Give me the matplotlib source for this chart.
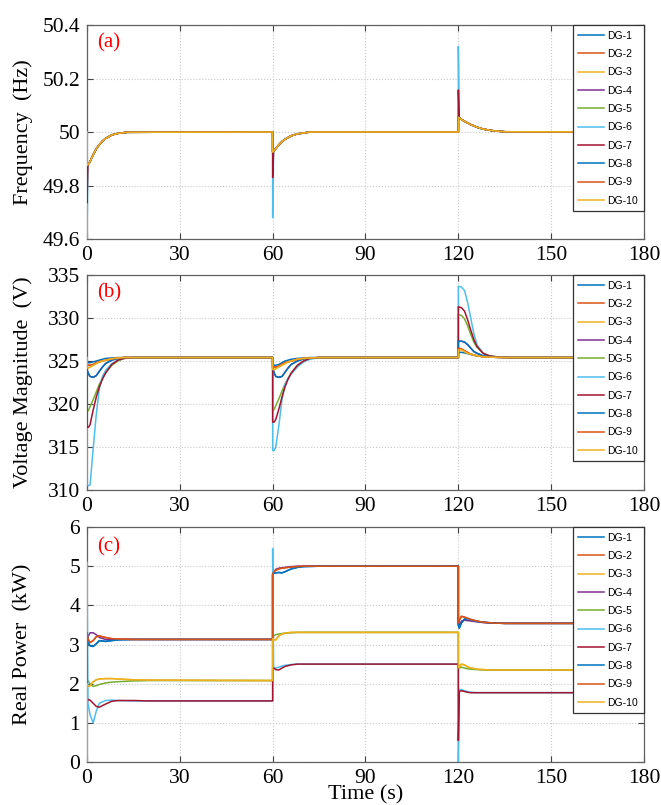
import matplotlib.pyplot as plt

plt.rcParams['font.family'] = ['Liberation Serif', 'DejaVu Serif']

# DG names and MATLAB-like colours
dg_names = ['DG-1', 'DG-2', 'DG-3', 'DG-4', 'DG-5', 'DG-6', 'DG-7', 'DG-8', 'DG-9', 'DG-10']
dg_colors = ['#0072BD', '#D95319', '#EDB120', '#7E2F8E', '#77AC30',
             '#4DBEEE', '#A2142F', '#0072BD', '#D95319', '#EDB120']

x_ticks = [0, 30, 60, 90, 120, 150, 180]

# ---------------- (a) frequency ----------------
t_freq = [0, 0, 0.3, 1, 2, 3, 4, 5, 6, 8, 10, 13,
          60, 60, 60.3, 61, 62, 63, 64, 66, 68, 72,
          120, 120, 120.3, 121, 122, 124, 126, 128, 131, 135, 180]
freq_base = [50, 49.875, 49.878, 49.89, 49.915, 49.937, 49.953, 49.966, 49.976, 49.989, 49.995, 49.999,
             50, 49.925, 49.928, 49.938, 49.952, 49.964, 49.973, 49.986, 49.993, 50,
             50, 50.055, 50.053, 50.047, 50.04, 50.028, 50.018, 50.011, 50.005, 50.001, 50]
# value each DG jumps to at t = 0, 60, 120
freq_jump_0 = [49.875, 49.875, 49.875, 49.875, 49.875, 49.6, 49.735, 49.875, 49.875, 49.875]
freq_jump_60 = [49.925, 49.925, 49.925, 49.925, 49.925, 49.68, 49.83, 49.925, 49.925, 49.925]
freq_jump_120 = [50.055, 50.055, 50.055, 50.055, 50.055, 50.32, 50.157, 50.055, 50.055, 50.055]
freq_ticks = [49.6, 49.8, 50, 50.2, 50.4]
freq_ticklabels = ['49.6', '49.8', '50', '50.2', '50.4']

# ---------------- (b) voltage ----------------
t_volt = [0, 0, 0.5, 1, 2, 3, 4, 5, 6, 8, 10, 12, 15,
          60, 60, 60.5, 61, 62, 63, 64, 65, 66, 68, 70, 72, 75,
          120, 120, 121, 122, 123, 124, 125, 126, 128, 130, 133, 137, 180]
v_dg1 = [325.4, 324.9, 324.8, 324.8, 324.9, 325.0, 325.1, 325.2, 325.3, 325.35, 325.4, 325.4, 325.4,
         325.4, 324.6, 324.5, 324.5, 324.6, 324.8, 325.0, 325.1, 325.2, 325.3, 325.35, 325.4, 325.4,
         325.4, 326.0, 326.0, 325.95, 325.85, 325.75, 325.65, 325.6, 325.5, 325.45, 325.42, 325.4, 325.4]
v_orange = [325.4, 324.6, 324.5, 324.5, 324.6, 324.8, 324.9, 325.0, 325.1, 325.25, 325.35, 325.4, 325.4,
            325.4, 324.4, 324.3, 324.3, 324.4, 324.6, 324.8, 324.9, 325.0, 325.2, 325.3, 325.35, 325.4,
            325.4, 326.5, 326.4, 326.2, 326.0, 325.8, 325.7, 325.6, 325.5, 325.45, 325.42, 325.4, 325.4]
v_yellow = [325.4, 324.2, 324.2, 324.3, 324.5, 324.7, 324.9, 325.0, 325.1, 325.25, 325.35, 325.4, 325.4,
            325.4, 324.0, 324.0, 324.1, 324.3, 324.5, 324.7, 324.9, 325.0, 325.2, 325.3, 325.35, 325.4,
            325.4, 326.3, 326.3, 326.1, 325.9, 325.8, 325.7, 325.6, 325.5, 325.45, 325.42, 325.4, 325.4]
v_dip = [325.4, 324.0, 323.5, 323.2, 323.1, 323.3, 323.8, 324.3, 324.7, 325.1, 325.3, 325.4, 325.4,
         325.4, 324.2, 323.6, 323.2, 323.1, 323.2, 323.7, 324.2, 324.6, 325.0, 325.25, 325.35, 325.4,
         325.4, 327.3, 327.3, 327.2, 326.9, 326.5, 326.1, 325.9, 325.6, 325.5, 325.42, 325.4, 325.4]
v_dg5 = [325.4, 319.0, 319.3, 319.7, 320.5, 321.4, 322.3, 323.0, 323.6, 324.5, 325.0, 325.3, 325.4,
         325.4, 319.2, 319.4, 319.8, 320.6, 321.5, 322.3, 323.0, 323.6, 324.5, 325.0, 325.3, 325.4,
         325.4, 330.4, 330.3, 329.9, 329.1, 328.1, 327.2, 326.6, 325.9, 325.6, 325.45, 325.4, 325.4]
v_dg6 = [325.4, 310.6, 310.5, 310.6, 314.8, 318.8, 321.8, 323.2, 323.9, 324.7, 325.1, 325.3, 325.4,
         325.4, 314.6, 314.6, 315.0, 317.5, 320.5, 322.3, 323.0, 323.5, 324.3, 324.9, 325.2, 325.4,
         325.4, 333.7, 333.6, 333.2, 331.8, 330.0, 328.2, 326.9, 325.9, 325.6, 325.45, 325.4, 325.4]
v_dg7 = [325.4, 317.3, 317.3, 317.6, 319.3, 320.8, 322.0, 322.9, 323.6, 324.6, 325.1, 325.3, 325.4,
         325.4, 317.9, 317.9, 318.2, 319.4, 320.8, 322.0, 322.9, 323.6, 324.5, 325.0, 325.3, 325.4,
         325.4, 331.3, 331.2, 330.8, 329.8, 328.6, 327.5, 326.7, 325.9, 325.6, 325.45, 325.4, 325.4]
volt_curves = [v_dg1, v_orange, v_yellow, v_dip, v_dg5, v_dg6, v_dg7, v_dip, v_orange, v_yellow]
volt_ticks = [310, 315, 320, 325, 330, 335]

# ---------------- (c) real power ----------------
t_pow = [0, 0, 0.3, 1, 2, 3, 4, 6, 8, 10, 15, 20, 60,
         60, 60.3, 61, 62, 63, 64, 66, 68, 70, 75, 120,
         120, 120.3, 121, 122, 123, 124, 126, 128, 131, 135, 180]
p_dg1 = [0, 3.3, 3.05, 2.97, 2.95, 3.02, 3.1, 3.08, 3.1, 3.12, 3.13, 3.13, 3.13,
         4.8, 4.82, 4.83, 4.84, 4.83, 4.86, 4.93, 4.97, 4.99, 5.0, 5.0,
         3.5, 3.42, 3.55, 3.65, 3.66, 3.63, 3.59, 3.57, 3.55, 3.54, 3.54]
p_orange = [0, 3.3, 3.15, 3.05, 3.1, 3.2, 3.22, 3.18, 3.15, 3.14, 3.13, 3.13, 3.13,
            4.8, 4.85, 4.9, 4.93, 4.95, 4.96, 4.98, 4.99, 5.0, 5.0, 5.0,
            3.55, 3.62, 3.72, 3.7, 3.67, 3.64, 3.6, 3.57, 3.55, 3.54, 3.54]
p_dg4 = [0, 3.0, 3.2, 3.3, 3.3, 3.25, 3.18, 3.13, 3.12, 3.13, 3.13, 3.13, 3.13,
         4.78, 4.85, 4.92, 4.95, 4.96, 4.97, 4.99, 5.0, 5.0, 5.0, 5.0,
         3.5, 3.5, 3.6, 3.62, 3.61, 3.6, 3.58, 3.56, 3.55, 3.54, 3.54]
p_yellow = [0, 2.0, 1.93, 1.95, 2.05, 2.1, 2.12, 2.13, 2.13, 2.12, 2.1, 2.09, 2.08,
            3.15, 3.12, 3.12, 3.22, 3.27, 3.29, 3.31, 3.31, 3.31, 3.31, 3.31,
            2.4, 2.42, 2.5, 2.48, 2.43, 2.4, 2.37, 2.36, 2.35, 2.35, 2.35]
p_dg5 = [0, 2.05, 2.08, 2.0, 1.93, 1.95, 1.98, 2.02, 2.04, 2.05, 2.07, 2.08, 2.08,
         3.2, 3.22, 3.25, 3.27, 3.28, 3.29, 3.3, 3.31, 3.31, 3.31, 3.31,
         2.4, 2.4, 2.42, 2.4, 2.38, 2.37, 2.36, 2.35, 2.35, 2.35, 2.35]
p_dg6 = [0, 5.1, 1.5, 1.2, 1.0, 1.3, 1.5, 1.57, 1.58, 1.57, 1.56, 1.56, 1.56,
         5.45, 2.42, 2.4, 2.42, 2.45, 2.47, 2.49, 2.5, 2.5, 2.5, 2.5,
         0.0, 1.85, 1.85, 1.82, 1.8, 1.78, 1.77, 1.77, 1.77, 1.77, 1.77]
p_dg7 = [0, 1.5, 1.6, 1.58, 1.5, 1.42, 1.4, 1.48, 1.55, 1.57, 1.57, 1.56, 1.56,
         2.4, 2.4, 2.36, 2.35, 2.4, 2.44, 2.48, 2.5, 2.5, 2.5, 2.5,
         0.55, 1.8, 1.82, 1.8, 1.78, 1.77, 1.77, 1.77, 1.77, 1.77, 1.77]
p_dg8 = [0, 1.55, 1.62, 1.6, 1.55, 1.5, 1.52, 1.56, 1.57, 1.57, 1.56, 1.56, 1.56,
         2.42, 2.45, 2.46, 2.47, 2.48, 2.49, 2.5, 2.5, 2.5, 2.5, 2.5,
         1.9, 1.88, 1.87, 1.84, 1.81, 1.79, 1.77, 1.77, 1.77, 1.77, 1.77]
pow_curves = [p_dg1, p_orange, p_yellow, p_dg4, p_dg5, p_dg6, p_dg7, p_dg1, p_orange, p_yellow]
pow_ticks = [0, 1, 2, 3, 4, 5, 6]

# build frequency curves from base + jump values
jump_idx = [i for i in range(1, len(t_freq)) if t_freq[i] == t_freq[i - 1]]
freq_curves = []
for k in range(10):
    f = list(freq_base)
    f[jump_idx[0]] = freq_jump_0[k]
    f[jump_idx[1]] = freq_jump_60[k]
    f[jump_idx[2]] = freq_jump_120[k]
    freq_curves.append(f)

fig = plt.figure(figsize=(6.61, 8.05), dpi=100)
ax_a = fig.add_axes([0.1316, 0.7031, 0.8427, 0.2658])
ax_b = fig.add_axes([0.1316, 0.3913, 0.8427, 0.2671])
ax_c = fig.add_axes([0.1316, 0.0534, 0.8427, 0.2919])

panels = [
    (ax_a, t_freq, freq_curves, (49.6, 50.4), freq_ticks, freq_ticklabels, 'Frequency  (Hz)', '(a)'),
    (ax_b, t_volt, volt_curves, (310, 335), volt_ticks, [str(v) for v in volt_ticks], 'Voltage Magnitude  (V)', '(b)'),
    (ax_c, t_pow, pow_curves, (0, 6), pow_ticks, [str(v) for v in pow_ticks], 'Real Power  (kW)', '(c)'),
]

for ax, t, curves, ylim, yt, ytl, ylab, tag in panels:
    for k in range(10):
        ax.plot(t, curves[k], color=dg_colors[k], linewidth=1.1, label=dg_names[k], zorder=3)
    ax.set_xlim(0, 180)
    ax.set_ylim(*ylim)
    ax.set_xticks(x_ticks)
    ax.set_yticks(yt)
    ax.set_yticklabels(ytl)
    ax.grid(True, linestyle=':', color='#c8c8c8', linewidth=0.8)
    ax.tick_params(direction='in', length=4, labelsize=15.5, pad=5,
                   top=True, right=True, color='#404040')
    for s in ax.spines.values():
        s.set_color('#606060')
        s.set_linewidth(0.9)
    ax.set_ylabel(ylab, fontsize=16)
    ax.yaxis.set_label_coords(-0.097, 0.5)
    ax.text(0.018, 0.915, tag, transform=ax.transAxes, color='red',
            fontsize=15, ha='left', va='center')
    leg = ax.legend(loc='upper right', borderaxespad=0, fancybox=False,
                    framealpha=1, edgecolor='#333333', handlelength=2.5,
                    handletextpad=0.3, labelspacing=0.8, borderpad=0.55,
                    prop={'family': 'Liberation Sans', 'size': 7.5})
    leg.get_frame().set_linewidth(0.9)
    leg.set_zorder(5)

ax_c.set_xlabel('Time (s)', fontsize=16)
ax_c.xaxis.set_label_coords(0.5, -0.1)

plt.savefig('out.png', dpi=100)
